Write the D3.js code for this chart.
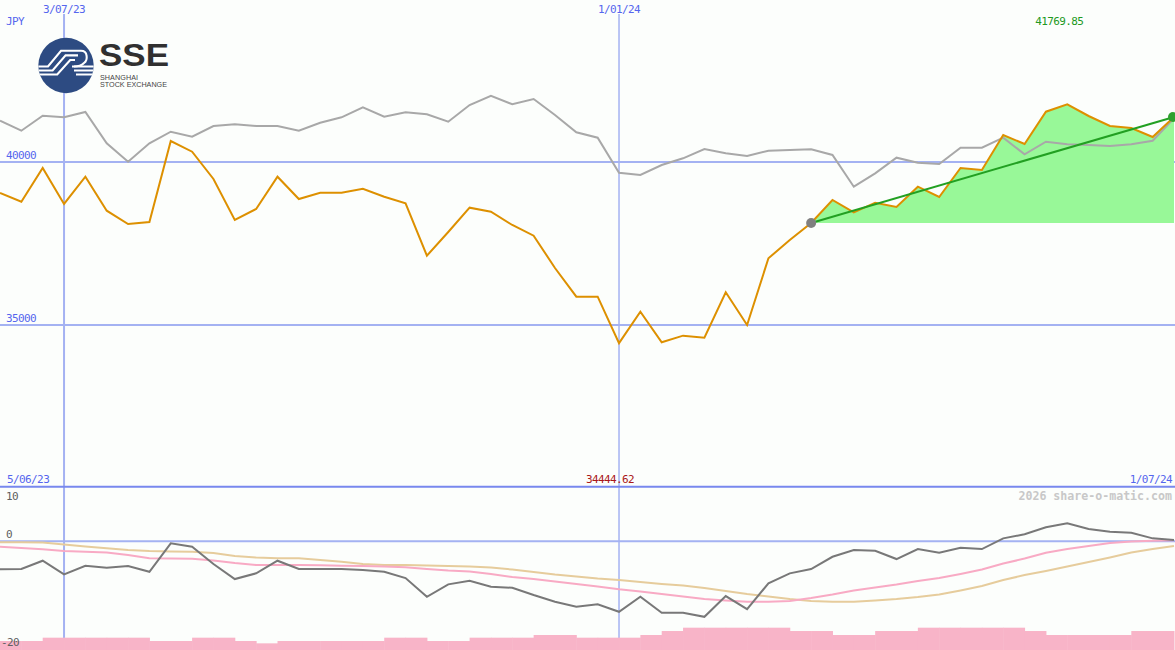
<!DOCTYPE html>
<html><head><meta charset="utf-8">
<script src="https://cdn.jsdelivr.net/npm/d3@7"></script>
<style>html,body{margin:0;padding:0;background:#fcfefc;overflow:hidden}svg{display:block}</style>
</head><body>
<script>
// ---------- data ----------
const dates = ["2023-06-12","2023-06-19","2023-06-26","2023-07-03","2023-07-10","2023-07-17","2023-07-24","2023-07-31",
"2023-08-07","2023-08-14","2023-08-21","2023-08-28","2023-09-04","2023-09-11","2023-09-18","2023-09-25",
"2023-10-02","2023-10-09","2023-10-16","2023-10-23","2023-10-30","2023-11-06","2023-11-13","2023-11-20","2023-11-27",
"2023-12-04","2023-12-11","2023-12-18","2023-12-25","2024-01-01","2024-01-08","2024-01-15","2024-01-22","2024-01-29",
"2024-02-05","2024-02-12","2024-02-19","2024-02-26","2024-03-04","2024-03-11","2024-03-18","2024-03-25",
"2024-04-01","2024-04-08","2024-04-15","2024-04-22","2024-04-29","2024-05-06","2024-05-13","2024-05-20","2024-05-27",
"2024-06-03","2024-06-10","2024-06-17","2024-06-24","2024-07-01"];
const price = [39049,38782,39816,38712,39549,38506,38098,38160,40644,40316,39479,38221,38558,39549,38865,39058,
39058,39181,38936,38733,37126,37853,38598,38476,38068,37740,36749,35869,35869,34444.62,35409,34470,34673,34612,
36004,35001,37046,37608,38129,38835,38457,38752,38620,39242,38927,39816,39755,40828,40552,41543,41769.85,41411,
41104,41043,40767,41380];
const compare = [41267,40960,41420,41371,41534,40574,40009,40574,40929,40776,41104,41156,41104,41104,40960,41205,
41371,41678,41389,41524,41463,41236,41748,42033,41770,41932,41441,40911,40745,39672,39601,39908,40113,40399,
40267,40184,40347,40368,40390,40215,39242,39653,40132,39979,39939,40439,40439,40745,40236,40623,40543,40521,
40491,40543,40653,41340];
const momentum = [-5.16,-5.10,-3.57,-6.08,-4.49,-4.86,-4.55,-5.60,-0.37,-0.99,-4.18,-6.94,-5.89,-3.57,-5.10,-5.10,
-5.10,-5.29,-5.60,-6.76,-10.20,-7.92,-7.26,-8.36,-8.55,-9.89,-11.12,-12.04,-11.60,-12.97,-10.20,-13.15,-13.15,-13.89,
-10.07,-12.47,-7.73,-5.89,-5.10,-2.84,-1.60,-1.73,-3.26,-1.42,-2.10,-1.18,-1.42,0.55,1.29,2.58,3.31,2.27,1.77,1.58,0.55,0.24];
const maShort = [-0.99,-1.23,-1.47,-1.79,-1.92,-2.06,-2.52,-3.13,-3.17,-3.20,-3.54,-4.00,-4.37,-4.37,-4.37,-4.42,
-4.49,-4.55,-4.64,-4.79,-5.10,-5.38,-5.56,-6.02,-6.57,-6.94,-7.40,-7.86,-8.32,-8.84,-9.24,-9.71,-10.17,-10.63,
-10.90,-11.12,-11.12,-10.99,-10.44,-9.80,-9.06,-8.51,-7.96,-7.31,-6.76,-6.02,-5.19,-4.09,-3.17,-2.10,-1.42,-0.87,
-0.31,-0.04,0.11,0.18];
const maLong = [-0.18,-0.18,-0.22,-0.59,-0.96,-1.29,-1.60,-1.79,-1.88,-1.92,-2.15,-2.71,-2.98,-3.13,-3.13,-3.44,
-3.76,-4.18,-4.37,-4.37,-4.46,-4.55,-4.64,-4.83,-5.19,-5.65,-6.11,-6.48,-6.85,-7.13,-7.50,-7.86,-8.14,-8.60,
-9.15,-9.71,-10.17,-10.63,-10.99,-11.12,-11.12,-10.90,-10.63,-10.26,-9.80,-9.06,-8.23,-7.13,-6.21,-5.47,-4.64,
-3.81,-2.98,-2.06,-1.42,-0.87];
const volume = [27,27,37,37,37,37,37,27,27,37,37,27,20,27,27,27,27,27,37,37,27,27,37,37,37,45,45,37,37,37,45,57,
67,67,67,67,67,57,57,45,45,57,57,67,67,67,67,67,57,45,45,45,45,57,57,57];
const priceTicks = [40000, 35000];
const momTicks = [10, 0, -20];
const gridDates = ["2023-07-03","2024-01-01"];
const gridLabels = ["3/07/23","1/01/24"];
const rangeLabels = ["5/06/23","1/07/24"];
const currency = "JPY";
const trendStart = 38;
const maxLabel = "41769.85", minLabel = "34444.62";
const credit = "2026 share-o-matic.com";

// ---------- setup ----------
const W = 1175, H = 650;
const parse = d3.timeParse("%Y-%m-%d");
const D = dates.map(parse);
const svg = d3.select("body").append("svg").attr("width", W).attr("height", H);
svg.append("rect").attr("width", W).attr("height", H).attr("fill", "#fcfefc");

const x = d3.scaleTime().domain([D[0], D[D.length-1]]).range([0, 1174]);
const y = d3.scaleLinear().domain([35000, 40000]).range([325, 162]);
const ym = d3.scaleLinear().domain([-20, 10]).range([650, 487]);
const yv = d3.scaleLinear().domain([0, 100]).range([650, 616.7]);

const grid = "#a4b2f2";
const mono = "DejaVu Sans Mono, monospace";
const lbl = (sel) => sel.attr("font-family", mono).attr("font-size", 11).attr("letter-spacing", -0.6);

// vertical gridlines
gridDates.forEach((g, i) => {
  svg.append("line").attr("x1", x(parse(g))).attr("x2", x(parse(g)))
    .attr("y1", 14).attr("y2", 640).attr("stroke", grid).attr("stroke-width", i === 0 ? 2 : 1.5);
  lbl(svg.append("text")).attr("x", x(parse(g))).attr("y", 13).attr("text-anchor", "middle")
    .attr("fill", "#5566ee").text(gridLabels[i]);
});
// horizontal price gridlines
priceTicks.forEach(t => {
  svg.append("line").attr("x1", 0).attr("x2", W).attr("y1", y(t)).attr("y2", y(t))
    .attr("stroke", grid).attr("stroke-width", 2);
  lbl(svg.append("text")).attr("x", 6).attr("y", y(t) - 3).attr("fill", "#5566ee").text(t);
});
lbl(svg.append("text")).attr("x", 6).attr("y", 25).attr("fill", "#5566ee").text(currency);

// green area & comparison
const idx = d3.range(dates.length);
const base = price[trendStart];
const tail = idx.filter(i => i >= trendStart);
svg.append("path").datum(tail)
  .attr("d", d3.area().x(i => x(D[i])).y0(y(base)).y1(i => y(price[i])))
  .attr("fill", "#98f898");
svg.append("path").datum(idx)
  .attr("d", d3.line().x(i => x(D[i])).y(i => y(compare[i])))
  .attr("fill", "none").attr("stroke", "#a8a8a8").attr("stroke-width", 2);
svg.append("path").datum(idx)
  .attr("d", d3.line().x(i => x(D[i])).y(i => y(price[i])))
  .attr("fill", "none").attr("stroke", "#dd9000").attr("stroke-width", 2);
const last = dates.length - 1;
svg.append("line").attr("x1", x(D[trendStart])).attr("y1", y(price[trendStart]))
  .attr("x2", x(D[last])).attr("y2", y(price[last])).attr("stroke", "#22a022").attr("stroke-width", 2);
svg.append("circle").attr("cx", x(D[trendStart])).attr("cy", y(price[trendStart])).attr("r", 5).attr("fill", "#808080");
svg.append("circle").attr("cx", x(D[last]) - 1).attr("cy", y(price[last])).attr("r", 5).attr("fill", "#2ea02e");

// max label
const imax = d3.maxIndex(price), imin = d3.minIndex(price);
lbl(svg.append("text")).attr("x", x(D[imax]) - 8).attr("y", 25).attr("text-anchor", "middle")
  .attr("fill", "#229922").text(maxLabel);

// divider
svg.append("line").attr("x1", 0).attr("x2", W).attr("y1", 486.7).attr("y2", 486.7)
  .attr("stroke", "#7888ee").attr("stroke-width", 2);
lbl(svg.append("text")).attr("x", 7).attr("y", 483).attr("fill", "#5566ee").text(rangeLabels[0]);
lbl(svg.append("text")).attr("x", 1172).attr("y", 483).attr("text-anchor", "end").attr("fill", "#5566ee").text(rangeLabels[1]);
lbl(svg.append("text")).attr("x", x(D[imin]) - 9).attr("y", 483).attr("text-anchor", "middle")
  .attr("fill", "#aa1818").text(minLabel);
svg.append("text").attr("x", 1172).attr("y", 500).attr("text-anchor", "end").attr("font-family", mono)
  .attr("font-size", 11.6).attr("font-weight", "bold").attr("fill", "#c8c8c8").text(credit);

// lower panel
svg.append("line").attr("x1", 0).attr("x2", W).attr("y1", ym(0)).attr("y2", ym(0))
  .attr("stroke", grid).attr("stroke-width", 2);
svg.selectAll("rect.vol").data(idx.slice(0, last)).enter().append("rect").attr("class", "vol")
  .attr("x", i => x(D[i])).attr("width", i => x(D[i+1]) - x(D[i]) + 0.5)
  .attr("y", i => yv(volume[i])).attr("height", i => yv(0) - yv(volume[i])).attr("fill", "#f8b4c8");
svg.append("path").datum(idx).attr("d", d3.line().x(i => x(D[i])).y(i => ym(maLong[i])))
  .attr("fill", "none").attr("stroke", "#e6cc9c").attr("stroke-width", 2);
svg.append("path").datum(idx).attr("d", d3.line().x(i => x(D[i])).y(i => ym(maShort[i])))
  .attr("fill", "none").attr("stroke", "#f8aac4").attr("stroke-width", 2);
svg.append("path").datum(idx).attr("d", d3.line().x(i => x(D[i])).y(i => ym(momentum[i])))
  .attr("fill", "none").attr("stroke", "#787878").attr("stroke-width", 2);
const tickY = {10: 500, 0: 538.3, "-20": 646};
momTicks.forEach(t => {
  lbl(svg.append("text")).attr("x", t < 0 ? 1 : 6).attr("y", tickY[t]).attr("fill", "#606060").text(t);
});

// logo
const logo = svg.append("g");
const cx = 66, cy = 65.5, r = 27.7;
logo.append("clipPath").attr("id", "lc").append("circle").attr("cx", cx).attr("cy", cy).attr("r", r);
logo.append("circle").attr("cx", cx).attr("cy", cy).attr("r", r).attr("fill", "#2d4b82");
const lg = logo.append("g").attr("clip-path", "url(#lc)").attr("fill", "none").attr("stroke", "#fff").attr("stroke-width", 2.1);
[0, 1, 2].forEach(k => {
  const ly = 66.5 + k * 4, uy = 50.8 + k * 4.6, lx = 48 + k * 4.6;
  lg.append("path").attr("d", `M30,${ly} H${lx} L${lx + 13},${uy} H${81 - k * 3}`);
  lg.append("path").attr("d", `M${72 + k * 2},${ly} H100`);
});
lg.append("path").attr("d", "M81,50.8 C88,50.8 88,60 84,63 C82,65 78,66.5 74,66.5");
logo.append("text").attr("x", 99).attr("y", 66).attr("font-family", "Liberation Sans, Arial, sans-serif")
  .attr("font-weight", "bold").attr("font-size", 32).attr("textLength", 70).attr("lengthAdjust", "spacingAndGlyphs")
  .attr("fill", "#303030").text("SSE");
logo.append("text").attr("x", 100).attr("y", 79.5).attr("font-family", "Liberation Sans, Arial, sans-serif")
  .attr("font-size", 7.2).attr("textLength", 38).attr("fill", "#444").text("SHANGHAI");
logo.append("text").attr("x", 100).attr("y", 86.5).attr("font-family", "Liberation Sans, Arial, sans-serif")
  .attr("font-size", 7.2).attr("textLength", 67).attr("fill", "#444").text("STOCK EXCHANGE");
</script>
</body></html>
